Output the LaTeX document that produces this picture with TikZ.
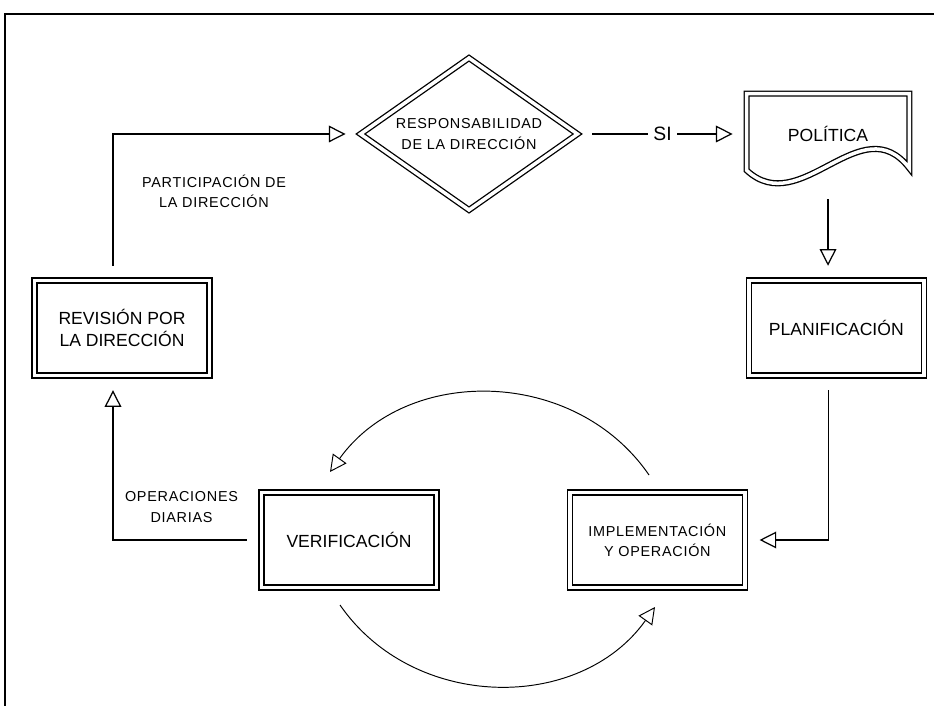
\documentclass[tikz,border=0pt]{standalone}
\usepackage{fontspec}
\setmainfont{Liberation Sans}
\newfontfamily\trackfont[LetterSpace=5]{Liberation Sans}
\usepackage{tikz}
\usetikzlibrary{positioning,shapes.geometric,arrows.meta}

\begin{document}
\begin{tikzpicture}[
		dbl/.style={draw, double, double distance=2pt, line width=0.75pt},
		box/.style={dbl, minimum width=3.5cm, minimum height=1.9cm,
			align=center, inner sep=2pt,
			font=\fontsize{10}{13}\selectfont,
		},
		lbl/.style={align=center, inner sep=1pt,
			font=\trackfont\fontsize{8.2}{11.5}\selectfont,
		},
		conn/.style={-{Triangle[open,length=9.5pt,width=9.5pt]},
			line width=0.7pt, shorten >=8pt, shorten <=8pt,
		},
		]

		\useasboundingbox (0,0) rectangle (18.68,14.12);
		\draw[line width=1.2pt] (0.1,0) |- (18.68,13.84);

		\node (rev) [box] at (2.44,7.56) {REVISIÓN POR\\LA DIRECCIÓN};
		\node (planif) [box, right = 10.76cm of rev] {PLANIFICACIÓN};
		\node (verif) [box] at (6.98,3.32) {VERIFICACIÓN};
		\node (impl) [box, right = 2.64cm of verif, font=\trackfont\fontsize{8.2}{11.5}\selectfont]
			{IMPLEMENTACIÓN\\Y OPERACIÓN};
		\node (resp) [dbl, diamond, aspect=1.4, minimum width=4.35cm, minimum height=3.05cm,
			align=center, inner sep=1pt, font=\trackfont\fontsize{8.2}{11.5}\selectfont]
			at (9.38,11.44) {RESPONSABILIDAD\\DE LA DIRECCIÓN};
		\node (pol) [minimum width=3.24cm, minimum height=1.6cm, inner sep=0pt,
			font=\fontsize{10}{13}\selectfont, right = 3.365cm of resp] {POLÍTICA};
		\draw[dbl] (pol.north west) -- (pol.north east) -- ([yshift=1.2mm]pol.south east)
			.. controls +(-0.96,1.26) and +(1.08,-1.0) .. ([yshift=0.8mm]pol.south west) -- cycle;

		\node (partlbl) [lbl] at (4.28,10.30) {PARTICIPACIÓN DE\\LA DIRECCIÓN};
		\node (oplbl) [lbl] at (3.63,3.98) {OPERACIONES\\DIARIAS};

		\coordinate (upA) at (12.98,4.62);
		\coordinate (upB) at (6.60,4.68);
		\coordinate (loA) at (6.80,2.02);
		\coordinate (loB) at (13.10,1.98);

		\draw[conn] ([xshift=-1.8mm]rev.north) |- (resp);
		\draw[conn] (resp) -- node[fill=white, inner sep=3pt, font=\fontsize{11}{13}\selectfont] {SI} (pol);
		\draw[conn, shorten <=0.5cm] (pol) -- (pol |- planif.north);
		\draw[conn] ([xshift=-1.6mm]planif.south) |- (impl);
		\draw[conn] (verif) -| ([xshift=-1.8mm]rev.south);
		\draw[conn, line width=0.55pt, shorten >=0pt, shorten <=0pt] (upA) to[bend right=55, looseness=1.05] (upB);
		\draw[conn, line width=0.55pt, shorten >=0pt, shorten <=0pt] (loA) to[bend right=55, looseness=1.05] (loB);

	\end{tikzpicture}
\end{document}
